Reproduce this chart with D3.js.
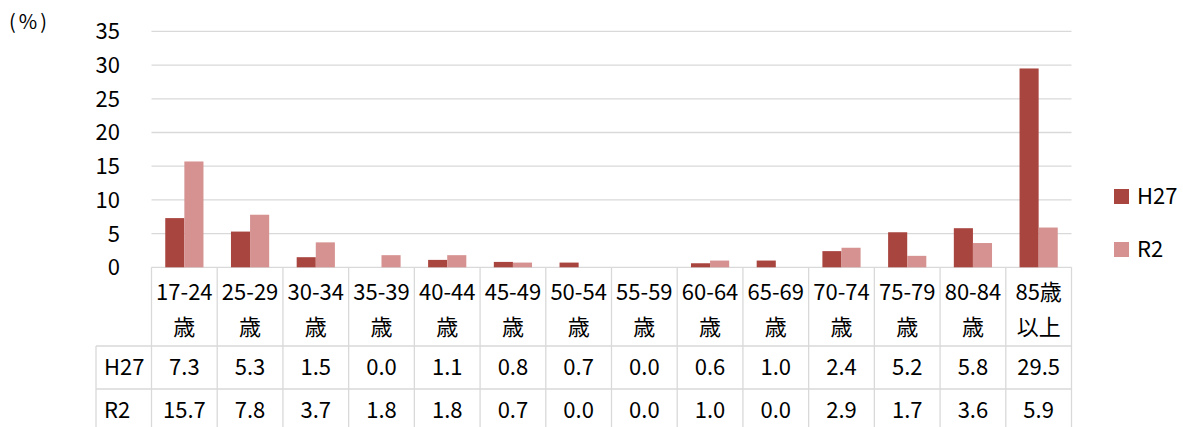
<!DOCTYPE html>
<html><head><meta charset="utf-8">
<script src="https://cdn.jsdelivr.net/npm/d3@7"></script>
<style>body{margin:0;background:#fff}svg{display:block}text{font-family:"Noto Sans CJK JP","Noto Sans",sans-serif;fill:#000}</style>
</head><body>
<svg id="c" width="1183" height="427"></svg>
<script>
const categories = ["17-24歳","25-29歳","30-34歳","35-39歳","40-44歳","45-49歳","50-54歳","55-59歳","60-64歳","65-69歳","70-74歳","75-79歳","80-84歳","85歳以上"];
const catLine1 = ["17-24","25-29","30-34","35-39","40-44","45-49","50-54","55-59","60-64","65-69","70-74","75-79","80-84","85歳"];
const catLine2 = ["歳","歳","歳","歳","歳","歳","歳","歳","歳","歳","歳","歳","歳","以上"];
const seriesNames = ["H27","R2"];
const h27 = [7.3,5.3,1.5,0.0,1.1,0.8,0.7,0.0,0.6,1.0,2.4,5.2,5.8,29.5];
const r2  = [15.7,7.8,3.7,1.8,1.8,0.7,0.0,0.0,1.0,0.0,2.9,1.7,3.6,5.9];
const yTicks = [0,5,10,15,20,25,30,35];
const colors = ["#a9453f","#d59290"];

const svg = d3.select("#c");
const pLeft = 151.5, pRight = 1071.5, pTop = 31.4, pBottom = 267.3;
const grid = "#d9d9d9";
const fs = "22px";
const x = d3.scaleBand().domain(categories).range([pLeft,pRight]).paddingInner(0).paddingOuter(0);
const y = d3.scaleLinear().domain([0,35]).range([pBottom,pTop]);
const xs = d3.scaleBand().domain(seriesNames).range([0,x.bandwidth()]).paddingInner(0).paddingOuter(0.72);

svg.append("g").selectAll("line").data(yTicks).join("line")
  .attr("x1",pLeft).attr("x2",pRight).attr("y1",d=>y(d)).attr("y2",d=>y(d))
  .attr("stroke",grid).attr("stroke-width",1.3);
svg.append("g").selectAll("text").data(yTicks).join("text")
  .attr("x",120).attr("y",d=>y(d)).attr("dy","0.36em").attr("text-anchor","end")
  .style("font-size",fs).text(d=>d);
svg.append("text").attr("x",9).attr("y",22).attr("dy","0.36em").style("font-size","20px").style("letter-spacing","3px").text("(%)");

const series = [h27,r2];
series.forEach((vals,si)=>{
  svg.append("g").selectAll("rect").data(vals).join("rect")
    .attr("x",(d,i)=>x(categories[i])+xs(seriesNames[si]))
    .attr("width",xs.bandwidth())
    .attr("y",d=>y(d)).attr("height",d=>pBottom-y(d))
    .attr("fill",colors[si]);
});

const rowTop = 346, rowH = 43, tableBottom = 432;
const t = svg.append("g");
categories.concat(["_end"]).forEach((c,i)=>{
  const xx = i<categories.length ? x(c) : pRight;
  t.append("line").attr("x1",xx).attr("x2",xx).attr("y1",pBottom).attr("y2",tableBottom).attr("stroke",grid).attr("stroke-width",1.3);
});
t.append("line").attr("x1",96).attr("x2",96).attr("y1",rowTop).attr("y2",tableBottom).attr("stroke",grid).attr("stroke-width",1.3);
[rowTop,rowTop+rowH].forEach(yy=>{
  t.append("line").attr("x1",96).attr("x2",pRight).attr("y1",yy).attr("y2",yy).attr("stroke",grid).attr("stroke-width",1.3);
});
t.selectAll(".l1").data(catLine1).join("text")
  .attr("x",(d,i)=>x(categories[i])+x.bandwidth()/2).attr("y",292).attr("dy","0.36em")
  .attr("text-anchor","middle").style("font-size",fs).text(d=>d);
t.selectAll(".l2").data(catLine2).join("text")
  .attr("x",(d,i)=>x(categories[i])+x.bandwidth()/2).attr("y",327).attr("dy","0.36em")
  .attr("text-anchor","middle").style("font-size",fs).text(d=>d);
series.forEach((vals,si)=>{
  const cy = rowTop + rowH*si + rowH/2;
  t.append("text").attr("x",104).attr("y",cy).attr("dy","0.36em").style("font-size",fs).text(seriesNames[si]);
  t.append("g").selectAll("text").data(vals).join("text")
    .attr("x",(d,i)=>x(categories[i])+x.bandwidth()/2).attr("y",cy).attr("dy","0.36em")
    .attr("text-anchor","middle").style("font-size",fs).text(d=>d.toFixed(1));
});

const lg = svg.append("g");
seriesNames.forEach((s,i)=>{
  const ly = 196.5 + i*53;
  lg.append("rect").attr("x",1114).attr("y",ly-7.5).attr("width",15).attr("height",15).attr("fill",colors[i]);
  lg.append("text").attr("x",1137).attr("y",ly).attr("dy","0.36em").style("font-size",fs).text(s);
});
</script>
</body></html>
